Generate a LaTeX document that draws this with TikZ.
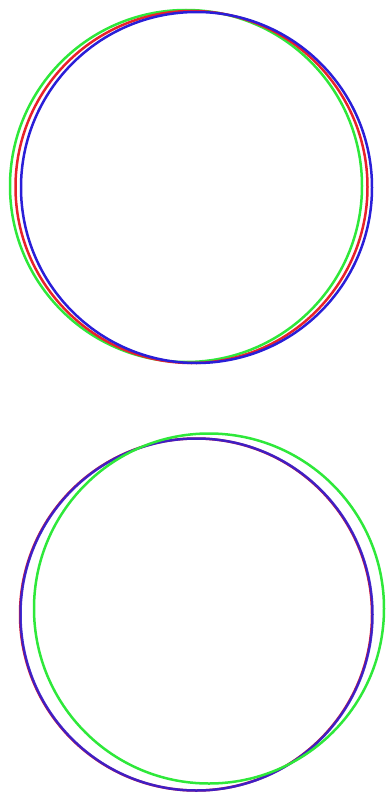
\documentclass[tikz,border=0pt]{standalone}
\definecolor{ringR}{HTML}{E8222A}
\definecolor{ringG}{HTML}{2EE83A}
\definecolor{ringB}{HTML}{2A1ED8}

\begin{document}
\begin{tikzpicture}[x=0.5pt,y=-0.5pt,line width=1.25pt]
\useasboundingbox (0,0) rectangle (386,797);
% Cercles superiors, gairebé coincidents
\draw[ringG] (186,186) circle (176);
\draw[ringR] (191.5,187) circle (176);
\draw[ringB] (196.5,187.5) circle (175.5);
% Cercles inferiors
\draw[ringR] (196,614.5) circle (176);
\draw[ringB,opacity=0.88] (196.5,614.5) circle (176);
\draw[ringG] (209,608.5) circle (175);
\end{tikzpicture}
\end{document}
